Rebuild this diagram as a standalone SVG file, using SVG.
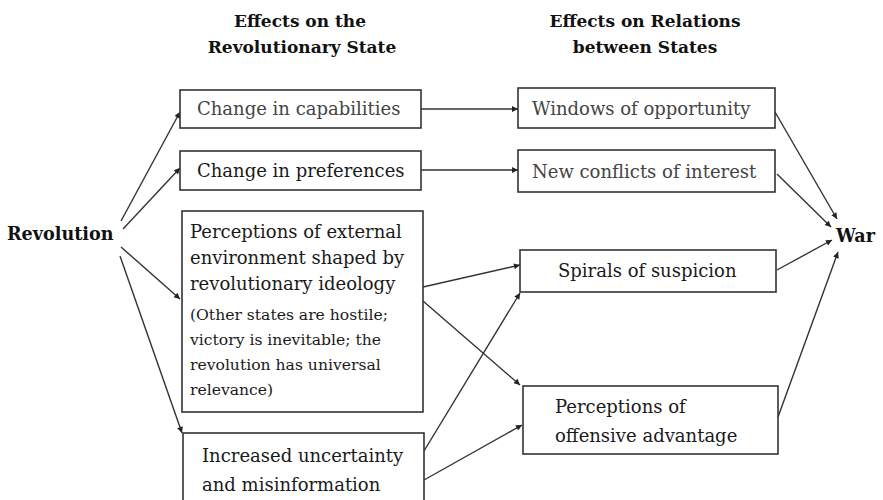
<svg xmlns="http://www.w3.org/2000/svg" width="883" height="500" viewBox="0 0 883 500">
<style>
.box{fill:#fff;stroke:#333;stroke-width:1.6}
.t{font-family:"DejaVu Serif","Liberation Serif",serif;font-size:18px;fill:#1a1a1a}
.ts{font-family:"DejaVu Serif","Liberation Serif",serif;font-size:15.6px;fill:#1a1a1a}
.tg{fill:#444}
.h{font-family:"DejaVu Serif","Liberation Serif",serif;font-size:17px;font-weight:bold;fill:#111;text-anchor:middle}
.b{font-family:"DejaVu Serif","Liberation Serif",serif;font-size:17.6px;font-weight:bold;fill:#111}
.c{stroke:#333;stroke-width:1.4;fill:none;marker-end:url(#ah)}
</style>
<defs>
<marker id="ah" viewBox="0 0 10 10" refX="10" refY="5" markerWidth="8" markerHeight="6" orient="auto" markerUnits="userSpaceOnUse">
<path d="M0,0 L10,5 L0,10 z" fill="#222"/>
</marker>
</defs>
<rect width="883" height="500" fill="#fff"/>
<g id="headers">
<text class="h" x="300" y="27">Effects on the</text>
<text class="h" x="302" y="53">Revolutionary State</text>
<text class="h" x="645" y="27">Effects on Relations</text>
<text class="h" x="645" y="53">between States</text>
</g>
<g id="connectors">
<line class="c" x1="121" y1="221" x2="180" y2="112"/>
<line class="c" x1="123" y1="229" x2="180" y2="168"/>
<line class="c" x1="121" y1="247" x2="180" y2="299"/>
<line class="c" x1="120" y1="256" x2="182" y2="433"/>
<line class="c" x1="421" y1="109" x2="518" y2="109"/>
<line class="c" x1="421" y1="170" x2="518" y2="170"/>
<line class="c" x1="423" y1="287" x2="520" y2="265"/>
<line class="c" x1="423" y1="301" x2="520" y2="385"/>
<line class="c" x1="424" y1="451" x2="520" y2="293"/>
<line class="c" x1="424" y1="480" x2="522" y2="425"/>
<line class="c" x1="775" y1="112" x2="837" y2="219"/>
<line class="c" x1="777" y1="174" x2="831" y2="227"/>
<line class="c" x1="777" y1="270" x2="832" y2="240"/>
<line class="c" x1="778" y1="417" x2="838" y2="252"/>
</g>
<g id="revolution">
<text class="b" x="7" y="240">Revolution</text>
</g>
<g id="war">
<text class="b" x="836" y="242">War</text>
</g>
<g id="capabilities">
<rect class="box" x="180" y="90" width="241" height="38"/>
<text class="t tg" x="197" y="115">Change in capabilities</text>
</g>
<g id="preferences">
<rect class="box" x="180" y="151" width="241" height="39"/>
<text class="t" x="197" y="177">Change in preferences</text>
</g>
<g id="perceptions">
<rect class="box" x="182" y="211" width="241" height="201"/>
<text class="t" x="190" y="238">Perceptions of external</text>
<text class="t" x="190" y="264">environment shaped by</text>
<text class="t" x="190" y="290">revolutionary ideology</text>
<text class="ts" x="190" y="320">(Other states are hostile;</text>
<text class="ts" x="190" y="345">victory is inevitable; the</text>
<text class="ts" x="190" y="370">revolution has universal</text>
<text class="ts" x="190" y="395">relevance)</text>
</g>
<g id="uncertainty">
<rect class="box" x="183" y="433" width="241" height="72"/>
<text class="t" x="202" y="462">Increased uncertainty</text>
<text class="t" x="202" y="491">and misinformation</text>
</g>
<g id="windows">
<rect class="box" x="518" y="88" width="257" height="40"/>
<text class="t tg" x="532" y="115">Windows of opportunity</text>
</g>
<g id="conflicts">
<rect class="box" x="518" y="150" width="257" height="42"/>
<text class="t tg" x="532" y="178">New conflicts of interest</text>
</g>
<g id="spirals">
<rect class="box" x="520" y="250" width="256" height="42"/>
<text class="t" x="558" y="277">Spirals of suspicion</text>
</g>
<g id="offensive">
<rect class="box" x="523" y="386" width="255" height="68"/>
<text class="t" x="555" y="413">Perceptions of</text>
<text class="t" x="555" y="442">offensive advantage</text>
</g>
</svg>
